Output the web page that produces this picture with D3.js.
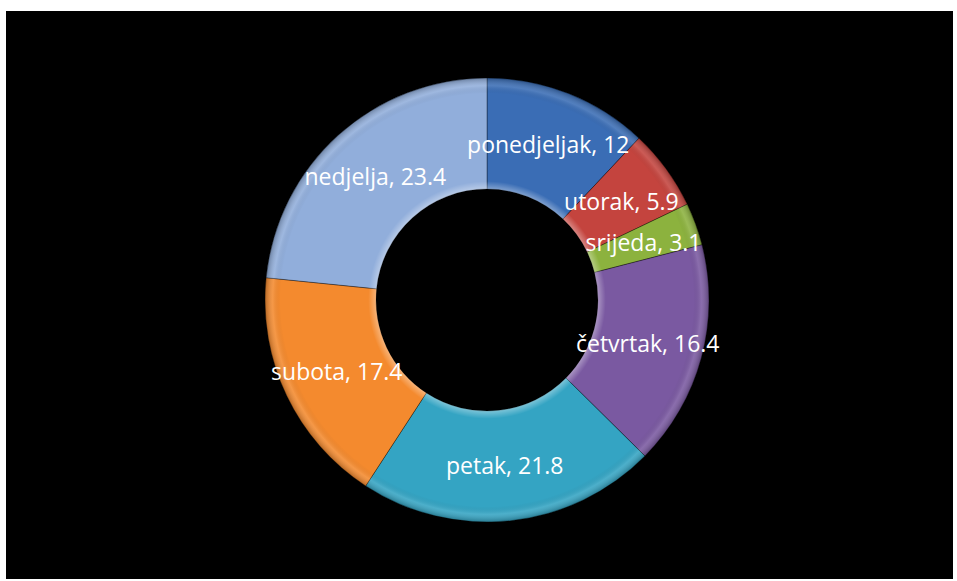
<!DOCTYPE html>
<html>
<head>
<meta charset="utf-8">
<script src="https://cdn.jsdelivr.net/npm/d3@7"></script>
<style>
  body { margin: 0; background: #fff; }
  text { font-family: "Open Sans", "Noto Sans", sans-serif; }
</style>
</head>
<body>
<div id="chart"></div>
<script>
var days = ["ponedjeljak", "utorak", "srijeda", "četvrtak", "petak", "subota", "nedjelja"];
var values = [12, 5.9, 3.1, 16.4, 21.8, 17.4, 23.4];

// office-like slice colours
var colours = ["#3a6db5", "#c4443e", "#8cb23e", "#7a59a1", "#34a4c3", "#f48a2e", "#91aedb"];

var W = 957, H = 581;
var cx = 487, cy = 300;
var R = 222, r = 111;

var svg = d3.select("#chart")
    .append("svg")
    .attr("width", W)
    .attr("height", H);

svg.append("rect")
    .attr("x", 6)
    .attr("y", 11)
    .attr("width", 947)
    .attr("height", 568)
    .attr("fill", "#000");

var defs = svg.append("defs");
var grad = defs.append("radialGradient")
    .attr("id", "bevel")
    .attr("gradientUnits", "userSpaceOnUse")
    .attr("cx", 0).attr("cy", 0).attr("r", R);
[[0.50, "#fff", 0.35], [0.535, "#fff", 0.0], [0.60, "#000", 0.0], [0.93, "#000", 0.0],
 [0.965, "#fff", 0.12], [1.0, "#000", 0.25]].forEach(function(s) {
    grad.append("stop")
        .attr("offset", s[0])
        .attr("stop-color", s[1])
        .attr("stop-opacity", s[2]);
});

var pie = d3.pie().sort(null).value(function(d) { return d; });
var arc = d3.arc().innerRadius(r).outerRadius(R);
var arcs = pie(values);

var g = svg.append("g")
    .attr("transform", "translate(" + cx + "," + cy + ")");

g.selectAll("path.slice")
    .data(arcs)
    .enter()
    .append("path")
    .attr("class", "slice")
    .attr("d", arc)
    .attr("fill", function(d, i) { return colours[i]; })
    .attr("stroke", "rgba(0,0,0,0.35)")
    .attr("stroke-width", 1);

g.selectAll("path.shade")
    .data(arcs)
    .enter()
    .append("path")
    .attr("class", "shade")
    .attr("d", arc)
    .attr("fill", "url(#bevel)");

g.selectAll("text")
    .data(arcs)
    .enter()
    .append("text")
    .attr("x", function(d) { return arc.centroid(d)[0]; })
    .attr("y", function(d) { return arc.centroid(d)[1]; })
    .attr("dy", "0.36em")
    .attr("text-anchor", "middle")
    .attr("fill", "#fff")
    .attr("font-size", "23px")
    .text(function(d, i) { return days[i] + ", " + values[i]; });
</script>
</body>
</html>
